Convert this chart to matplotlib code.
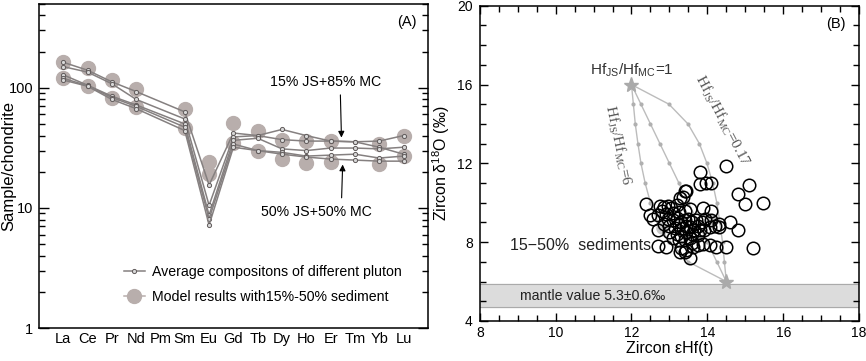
import numpy as np
import matplotlib
matplotlib.use("Agg")
import matplotlib.pyplot as plt
from matplotlib.ticker import LogLocator, NullFormatter, MultipleLocator

plt.rcParams['font.family'] = ['Liberation Sans', 'DejaVu Sans']
plt.rcParams['mathtext.fontset'] = 'custom'
plt.rcParams['mathtext.rm'] = 'Liberation Sans'

# ---------------- panel A data ----------------
elements = ["La", "Ce", "Pr", "Nd", "Pm", "Sm", "Eu", "Gd", "Tb", "Dy", "Ho", "Er", "Tm", "Yb", "Lu"]
nan = np.nan
pluton_1 = [163, 140, 112, 93, nan, 63, 15.5, 42, 40, 45, 40, 36, 35.5, 36, 40]
pluton_2 = [150, 135, 108, 80, nan, 55, 10.5, 39, 40, 37, 36, 36, 35.5, 32, 28]
pluton_3 = [128, 105, 85, 72, nan, 50, 8.7, 36.5, 38, 31, 30, 31.5, 31.5, 31, 32]
pluton_4 = [120, 104, 83, 70, nan, 47, 8.1, 34, 30, 29, 27, 27.5, 28, 26, 27]
pluton_5 = [116, 103, 80, 67, nan, 44, 7.2, 32, 30, 28, 26.5, 25.5, 25, 24.5, 24.5]
model_15 = [164, 145, 115, 97, nan, 66, 24, 51, 44, 37, 36, 36, nan, 34, 40]
model_50 = [121, 104, 83, 69, nan, 46, 19, 35, 30, 25.5, 23.5, 24, nan, 23, 27]

# ---------------- panel B data ----------------
ehf = [14.5, 15.1, 14.81, 14.98, 15.48, 15.2, 14.81, 14.5, 14.6, 14.32,
       13.8, 13.8, 13.97, 14.1, 13.4, 13.27, 12.39, 13.88, 14.1, 12.48,
       12.56, 12.7, 12.7, 12.92, 13.27, 13.4, 13.53, 13.62, 13.88, 14.06,
       14.24, 13.8, 14.06, 13.75,
       12.75, 12.85, 12.95, 13.05, 12.8, 12.7, 12.9, 13.1, 13.25, 13.4,
       13.55, 13.2, 13.35, 13.45,
       12.95, 13.1, 13.2, 13.3, 13.4, 13.5, 13.6, 13.7, 13.85, 13.95, 14.1,
       12.85, 13.0, 13.15, 13.25, 13.35, 13.45, 13.55, 13.65, 13.75, 13.9, 14.2, 14.3,
       13.0, 13.2, 13.3, 13.45, 13.6, 13.75, 13.4, 13.55, 13.25,
       13.3, 13.45, 13.6, 13.1]
d18o = [11.88, 10.9, 10.42, 9.93, 10.0, 7.68, 8.64, 7.73, 9.03, 8.78,
        11.54, 10.93, 10.98, 10.98, 10.6, 10.22, 9.93, 9.71, 9.6, 9.37,
        9.15, 8.6, 7.8, 7.76, 7.51, 7.51, 7.17, 7.76, 7.93, 7.85,
        7.73, 8.61, 8.78, 7.85,
        9.85, 9.8, 9.85, 9.75, 9.6, 9.4, 9.45, 9.5, 9.55, 9.6,
        9.7, 9.9, 10.3, 10.6,
        9.2, 9.1, 9.25, 9.0, 9.1, 9.2, 9.0, 9.1, 9.0, 9.2, 9.1,
        8.9, 8.8, 8.7, 8.85, 8.7, 8.8, 8.75, 8.6, 8.8, 8.6, 8.8, 8.9,
        8.5, 8.4, 8.3, 8.5, 8.4, 8.35, 8.1, 8.2, 8.1,
        7.7, 7.6, 7.95, 8.2]
model_ehf = [12.8, 14.1]
model_d18o = [8.7, 9.1]

# mixing curves (MC end -> JS end)
mix_d18o = [6, 7, 8, 9, 10, 11, 12, 13, 14, 15, 16]
mix_ehf_r6 = [14.5, 13.5, 13.0, 12.7, 12.5, 12.36, 12.25, 12.17, 12.1, 12.05, 12.0]
mix_ehf_r1 = [14.5, 14.25, 14.0, 13.75, 13.5, 13.25, 13.0, 12.75, 12.5, 12.25, 12.0]
mix_ehf_r017 = [14.5, 14.45, 14.4, 14.33, 14.25, 14.14, 13.99, 13.79, 13.49, 12.99, 12.0]
end_ehf = [14.5, 12.0]
end_d18o = [6.0, 16.0]

fig = plt.figure(figsize=(8.66, 3.61), dpi=100)

# ---------------- panel A ----------------
ax = fig.add_axes([0.045, 0.0914, 0.449, 0.898])
x = np.arange(1, len(elements) + 1)
circ = "#b8aeac"
for m in (model_15, model_50):
    m = np.array(m, dtype=float)
    ok = ~np.isnan(m)
    ax.plot(x[ok], m[ok], "o", ms=10, color=circ, mec=circ, zorder=1)
for p in (pluton_1, pluton_2, pluton_3, pluton_4, pluton_5):
    p = np.array(p, dtype=float)
    ok = ~np.isnan(p)
    ax.plot(x[ok], p[ok], "-o", color="#858080", lw=1.1, ms=3, mfc="#d8d8d8",
            mec="#605a5a", mew=0.7, zorder=2)
ax.set_yscale("log")
ax.set_ylim(1, 500)
ax.set_xlim(0, 16)
ax.set_xticks(x)
ax.set_xticklabels(elements, fontsize=10.5)
ax.tick_params(axis="x", length=0, pad=3)
ax.yaxis.set_minor_locator(LogLocator(base=10, subs=np.arange(2, 10), numticks=10))
ax.yaxis.set_minor_formatter(NullFormatter())
ax.set_yticks([1, 10, 100])
ax.set_yticklabels(["1", "10", "100"], fontsize=10.5)
ax.tick_params(axis="y", which="both", direction="in", left=True, right=True, pad=4)
ax.tick_params(axis="y", which="major", length=7, width=1)
ax.tick_params(axis="y", which="minor", length=4.5, width=1)
ax.set_ylabel("Sample/chondrite", fontsize=12)
ax.yaxis.set_label_coords(-0.058, 0.5)
for s in ax.spines.values():
    s.set_linewidth(1.1)
ax.text(0.97, 0.965, "(A)", transform=ax.transAxes, ha="right", va="top", fontsize=10.5)

ax.annotate("", xy=(12.45, 36.5), xytext=(12.4, 92),
            arrowprops=dict(arrowstyle="-|>", color="black", lw=0.8, mutation_scale=9))
ax.text(11.8, 112, "15% JS+85% MC", ha="center", va="center", fontsize=10.2)
ax.annotate("", xy=(12.5, 24.2), xytext=(12.45, 11.5),
            arrowprops=dict(arrowstyle="-|>", color="black", lw=0.8, mutation_scale=9))
ax.text(11.4, 9.2, "50% JS+50% MC", ha="center", va="center", fontsize=10.2)

h1, = ax.plot([], [], "-o", color="#858080", lw=1.1, ms=3, mfc="#d8d8d8", mec="#605a5a", mew=0.7)
h2, = ax.plot([], [], "-o", color="#b8aeac", lw=1.1, ms=10, mec=circ)
ax.legend([h1, h2], ["Average compositons of different pluton",
                     "Model results with15%-50% sediment"],
          loc="lower left", bbox_to_anchor=(0.185, 0.035), frameon=False,
          fontsize=10.2, handlelength=1.5, handletextpad=0.5, labelspacing=0.75)

# ---------------- panel B ----------------
bx = fig.add_axes([0.554, 0.111, 0.438, 0.873])
bx.axhspan(4.7, 5.9, color="#dcdcdc", zorder=0)
bx.axhline(4.7, color="#aaaaaa", lw=0.8, zorder=0)
bx.axhline(5.9, color="#aaaaaa", lw=0.8, zorder=0)
bx.text(9.05, 5.25, "mantle value 5.3\u00b10.6\u2030", fontsize=10.2, va="center", color="#222222")

for cx in (mix_ehf_r6, mix_ehf_r1, mix_ehf_r017):
    bx.plot(cx, mix_d18o, "-", color="#bcbcbc", lw=1.0, zorder=1)
    bx.plot(cx[1:-1], mix_d18o[1:-1], "o", color="#b0b0b0", ms=3, mec="none", zorder=1)
bx.plot(end_ehf, end_d18o, "*", color="#aaaaaa", ms=11, mec="#aaaaaa", ls="none", zorder=4)

bx.plot(model_ehf, model_d18o, "o", ms=9, color="#c8c8c8", mec="none", zorder=2)
bx.plot(ehf, d18o, "o", ms=9, mfc="none", mec="black", mew=1.1, ls="none", zorder=3)

bx.text(12.0, 16.75, "Hf$_{\\mathregular{JS}}$/Hf$_{\\mathregular{MC}}$=1", ha="center", va="center",
        fontsize=11, color="#333333")
bx.text(11.65, 12.9, "Hf$_{\\mathregular{JS}}$/Hf$_{\\mathregular{MC}}$=6", ha="center", va="center",
        rotation=-78, fontsize=11, color="#555555", family="Liberation Serif",
        math_fontfamily="dejavuserif")
bx.text(14.4, 14.2, "Hf$_{\\mathregular{JS}}$/Hf$_{\\mathregular{MC}}$=0.17", ha="center", va="center",
        rotation=-62, fontsize=11, color="#555555", family="Liberation Serif",
        math_fontfamily="dejavuserif")
bx.text(8.8, 7.85, "15\u221250%  sediments", fontsize=11.5, va="center", color="#222222")
bx.text(17.65, 19.45, "(B)", ha="right", va="top", fontsize=10.5)

bx.set_xlim(8, 18)
bx.set_ylim(4, 20)
bx.xaxis.set_major_locator(MultipleLocator(2))
bx.xaxis.set_minor_locator(MultipleLocator(0.5))
bx.yaxis.set_major_locator(MultipleLocator(4))
bx.yaxis.set_minor_locator(MultipleLocator(1))
bx.tick_params(which="both", direction="in", top=True, right=True, labelsize=10, width=1)
bx.tick_params(which="major", length=6)
bx.tick_params(which="minor", length=4.5)
bx.tick_params(axis="y", pad=5)
bx.set_xlabel("Zircon \u03b5Hf(t)", fontsize=11.5, labelpad=1)
bx.set_ylabel("Zircon \u03b4$^{\\mathregular{18}}$O (\u2030)", fontsize=11.5)
bx.yaxis.set_label_coords(-0.074, 0.5)
for s in bx.spines.values():
    s.set_linewidth(1.1)

fig.savefig("out.png", dpi=100)
